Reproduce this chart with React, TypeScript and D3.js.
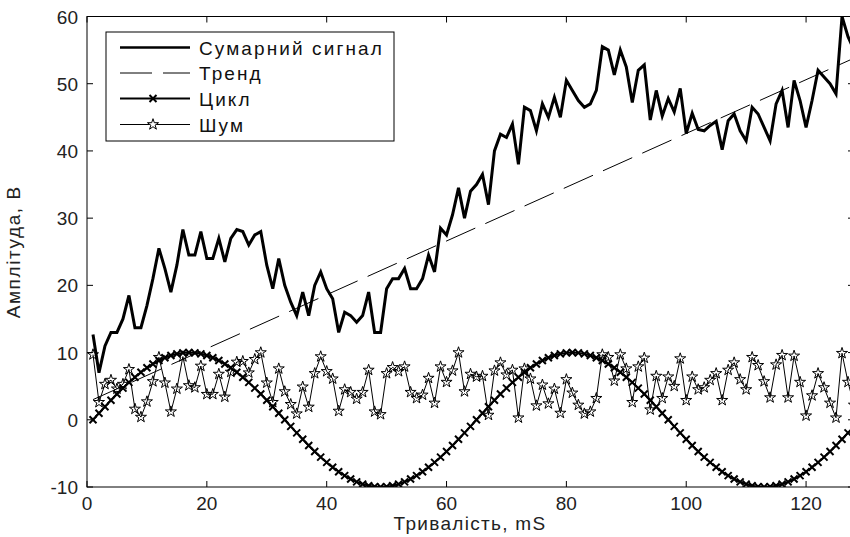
import React, { useRef, useEffect } from 'react';
import * as d3 from 'd3';

// сумарний сигнал, t = 1..128
const sumVals = [
  12.7, 7, 11, 13, 13, 15, 18.5, 13.7, 13.7, 17,
  21, 25.5, 22.5, 19, 23, 28.3, 24.5, 24.5, 28, 24,
  24, 27, 23.5, 27, 28.3, 28, 26, 27.5, 28, 23,
  19.5, 24, 20, 17.5, 15.5, 19, 15.5, 20, 22, 19.5,
  18, 13, 16, 15.5, 14.5, 15.5, 19, 13, 13, 19.5,
  21, 21, 22.5, 19.5, 19.5, 21, 24.5, 22, 28.5, 27.5,
  30.5, 34.5, 30, 34, 35, 36.5, 32, 40, 42.5, 42,
  44, 38, 46.5, 46, 43, 47, 45, 48, 45, 50.5,
  49, 47.5, 46.5, 47, 49, 55.5, 55, 51.3, 55, 52.5,
  47.2, 52, 52.8, 44.6, 49, 45.2, 47.8, 45.8, 49.3, 42.6,
  45.6, 43.2, 43, 43.8, 44.4, 40.2, 44.5, 45.5, 43, 41.5,
  46.5, 45.5, 43.5, 41.5, 47, 49, 43.5, 50.5, 47.5, 43.5,
  47.5, 52, 51, 50, 48.5, 60, 57, 55,
];

// тренд (пряма, дві крайні точки)
const trendT = [1, 128];
const trendVals = [3.0, 53.8];

// цикл
const cycleVals = [
  0, 0.98, 1.95, 2.9, 3.83, 4.71, 5.56, 6.34, 7.07, 7.73, 8.31, 8.82, 9.24, 9.57, 9.81, 9.95, 10,
  9.95, 9.81, 9.57, 9.24, 8.82, 8.31, 7.73, 7.07, 6.34, 5.56, 4.71, 3.83, 2.9, 1.95, 0.98,
  0, -0.98, -1.95, -2.9, -3.83, -4.71, -5.56, -6.34, -7.07, -7.73, -8.31, -8.82, -9.24, -9.57, -9.81, -9.95, -10,
  -9.95, -9.81, -9.57, -9.24, -8.82, -8.31, -7.73, -7.07, -6.34, -5.56, -4.71, -3.83, -2.9, -1.95, -0.98,
  0, 0.98, 1.95, 2.9, 3.83, 4.71, 5.56, 6.34, 7.07, 7.73, 8.31, 8.82, 9.24, 9.57, 9.81, 9.95, 10,
  9.95, 9.81, 9.57, 9.24, 8.82, 8.31, 7.73, 7.07, 6.34, 5.56, 4.71, 3.83, 2.9, 1.95, 0.98,
  0, -0.98, -1.95, -2.9, -3.83, -4.71, -5.56, -6.34, -7.07, -7.73, -8.31, -8.82, -9.24, -9.57, -9.81, -9.95, -10,
  -9.95, -9.81, -9.57, -9.24, -8.82, -8.31, -7.73, -7.07, -6.34, -5.56, -4.71, -3.83, -2.9, -1.95, -0.98,
];

// шум
const noiseVals = [
  9.7, 2.6, 5.3, 5.9, 4.6, 5.3, 7.5, 1.6, 0.4, 2.7,
  5.7, 9.3, 5.5, 1.2, 4.6, 9.4, 5.1, 4.8, 8.0, 3.8,
  3.8, 6.8, 3.4, 7.1, 8.6, 8.7, 7.0, 9.0, 10.0, 5.5,
  2.6, 7.6, 4.2, 2.3, 0.9, 4.9, 1.9, 6.9, 9.4, 7.2,
  6.1, 1.3, 4.5, 4.1, 3.1, 4.1, 7.4, 1.2, 0.8, 6.9,
  7.8, 7.2, 7.9, 4.1, 3.2, 3.7, 6.2, 2.5, 7.9, 5.6,
  7.3, 10.0, 4.2, 6.8, 6.4, 6.5, 0.7, 7.3, 8.5, 6.7,
  7.4, 0.3, 7.6, 6.1, 2.1, 5.2, 2.4, 4.6, 1.0, 6.0,
  4.0, 2.2, 0.9, 1.2, 3.2, 9.7, 9.3, 5.8, 9.7, 7.6,
  2.6, 7.9, 9.2, 1.5, 6.5, 3.2, 6.4, 5.0, 9.1, 2.9,
  6.4, 4.5, 4.8, 5.9, 6.9, 2.9, 7.4, 8.5, 6.0, 4.5,
  9.3, 8.1, 5.7, 3.3, 8.2, 9.6, 3.3, 9.5, 5.6, 0.6,
  3.6, 6.9, 4.8, 2.5, 0.3, 9.9, 5.6, 2.2,
];

const xTicks = [0, 20, 40, 60, 80, 100, 120];
const yTicks = [-10, 0, 10, 20, 30, 40, 50, 60];
const legendLabels = ['Сумарний сигнал', 'Тренд', 'Цикл', 'Шум'];

export default function App() {
  const svgRef = useRef<SVGSVGElement>(null);

  useEffect(() => {
    document.body.style.margin = '0';
    const width = 850;
    const height = 537;
    const left = 87, right = 854, top = 16.5, bottom = 487;

    const svg = d3.select(svgRef.current);
    svg.selectAll('*').remove();

    const x = d3.scaleLinear().domain([0, 128]).range([left, right]);
    const y = d3.scaleLinear().domain([-10, 60]).range([bottom, top]);
    const t = d3.range(1, 129);

    svg.append('rect').attr('width', width).attr('height', height).attr('fill', '#fff');

    svg.append('defs').append('clipPath').attr('id', 'plot-clip')
      .append('rect').attr('x', left).attr('y', top)
      .attr('width', right - left).attr('height', bottom - top);

    const plot = svg.append('g').attr('clip-path', 'url(#plot-clip)');

    const line = d3.line<[number, number]>().x(d => x(d[0])).y(d => y(d[1]));

    // сумарний сигнал
    plot.append('path')
      .attr('d', line(t.map((ti, i) => [ti, sumVals[i]] as [number, number])))
      .attr('fill', 'none').attr('stroke', '#000').attr('stroke-width', 3);

    // тренд
    plot.append('path')
      .attr('d', line(trendT.map((ti, i) => [ti, trendVals[i]] as [number, number])))
      .attr('fill', 'none').attr('stroke', '#000').attr('stroke-width', 1)
      .attr('stroke-dasharray', '32 11');

    // цикл
    plot.append('path')
      .attr('d', line(t.map((ti, i) => [ti, cycleVals[i]] as [number, number])))
      .attr('fill', 'none').attr('stroke', '#000').attr('stroke-width', 2);
    const xMark = 'M-3.5,-3.5L3.5,3.5M-3.5,3.5L3.5,-3.5';
    plot.selectAll('.cyc').data(cycleVals).enter().append('path')
      .attr('class', 'cyc')
      .attr('transform', (d, i) => `translate(${x(t[i])},${y(d)})`)
      .attr('d', xMark).attr('stroke', '#000').attr('stroke-width', 2).attr('fill', 'none');

    // шум
    plot.append('path')
      .attr('d', line(t.map((ti, i) => [ti, noiseVals[i]] as [number, number])))
      .attr('fill', 'none').attr('stroke', '#000').attr('stroke-width', 1);
    const star = d3.symbol(d3.symbolStar, 38)();
    plot.selectAll('.star').data(noiseVals).enter().append('path')
      .attr('class', 'star')
      .attr('transform', (d, i) => `translate(${x(t[i])},${y(d)})`)
      .attr('d', star).attr('stroke', '#000').attr('stroke-width', 1).attr('fill', 'none');

    // рамка осей
    svg.append('rect')
      .attr('x', left).attr('y', top).attr('width', right - left).attr('height', bottom - top)
      .attr('fill', 'none').attr('stroke', '#000').attr('stroke-width', 1);

    const tickLen = 6;
    const axisFont = '"Liberation Sans", Arial, sans-serif';

    xTicks.forEach(v => {
      const px = x(v);
      svg.append('line').attr('x1', px).attr('x2', px).attr('y1', bottom).attr('y2', bottom - tickLen)
        .attr('stroke', '#000');
      svg.append('line').attr('x1', px).attr('x2', px).attr('y1', top).attr('y2', top + tickLen)
        .attr('stroke', '#000');
      svg.append('text').attr('x', px).attr('y', 510)
        .attr('text-anchor', 'middle').attr('font-family', axisFont).attr('font-size', 19)
        .attr('fill', '#222').text(v);
    });

    yTicks.forEach(v => {
      const py = y(v);
      svg.append('line').attr('x1', left).attr('x2', left + tickLen).attr('y1', py).attr('y2', py)
        .attr('stroke', '#000');
      svg.append('line').attr('x1', right).attr('x2', right - tickLen).attr('y1', py).attr('y2', py)
        .attr('stroke', '#000');
      svg.append('text').attr('x', 78).attr('y', py + 7)
        .attr('text-anchor', 'end').attr('font-family', axisFont).attr('font-size', 19)
        .attr('fill', '#222').text(v);
    });

    // підписи осей
    svg.append('text').attr('x', 470).attr('y', 530)
      .attr('text-anchor', 'middle').attr('font-family', axisFont).attr('font-size', 19)
      .attr('letter-spacing', 1.3).attr('fill', '#222').text('Тривалість, mS');
    svg.append('text')
      .attr('transform', `translate(20,${(top + bottom) / 2}) rotate(-90)`)
      .attr('text-anchor', 'middle').attr('font-family', axisFont).attr('font-size', 19)
      .attr('letter-spacing', 1.6).attr('fill', '#222').text('Амплітуда, В');

    // легенда
    const lg = svg.append('g');
    lg.append('rect').attr('x', 106).attr('y', 32).attr('width', 288).attr('height', 109)
      .attr('fill', '#fff').attr('stroke', '#000').attr('stroke-width', 1);
    const rowY = [47.5, 73, 98.5, 124.5];
    const lx1 = 120, lx2 = 190, lmid = 153;
    legendLabels.forEach((label, i) => {
      const ry = rowY[i];
      const ln = lg.append('line').attr('x1', lx1).attr('x2', lx2).attr('y1', ry).attr('y2', ry)
        .attr('stroke', '#000');
      if (i === 0) ln.attr('stroke-width', 2.6);
      if (i === 1) ln.attr('stroke-width', 1).attr('stroke-dasharray', '32 11');
      if (i === 2) {
        ln.attr('stroke-width', 2);
        lg.append('path').attr('transform', `translate(${lmid},${ry})`).attr('d', xMark)
          .attr('stroke', '#000').attr('stroke-width', 2);
      }
      if (i === 3) {
        ln.attr('stroke-width', 1);
        lg.append('path').attr('transform', `translate(${lmid},${ry})`).attr('d', star)
          .attr('stroke', '#000').attr('fill', '#fff');
      }
      lg.append('text').attr('x', 199).attr('y', ry + 7)
        .attr('font-family', axisFont).attr('font-size', 19)
        .attr('letter-spacing', 2.1).attr('fill', '#111').text(label);
    });
  }, []);

  return (
    <svg ref={svgRef} width={850} height={537} style={{ display: 'block' }} />
  );
}
